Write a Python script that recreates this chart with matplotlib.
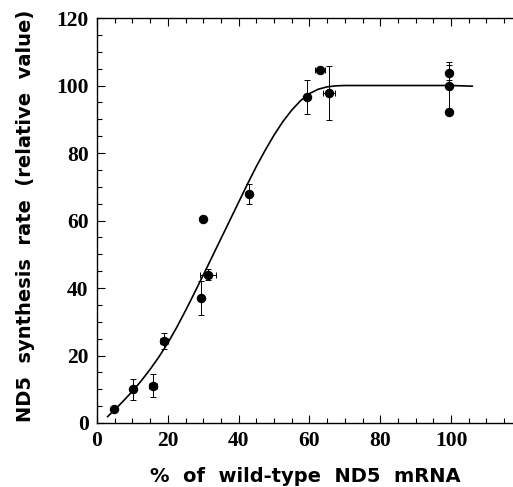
import numpy as np
import matplotlib
matplotlib.use('Agg')
import matplotlib.pyplot as plt
from matplotlib.ticker import MultipleLocator

# measured points (% wild-type ND5 mRNA vs synthesis rate)
x_pts = [4.8, 10.1, 15.9, 19.0, 29.4, 30.0, 31.4, 43.0, 59.2, 63.1, 65.6, 99.4, 99.4, 99.4]
y_pts = [4.2, 10.0, 11.1, 24.3, 37.1, 60.4, 44.0, 67.9, 96.7, 104.6, 97.7, 103.8, 99.9, 92.1]
yerr = [0, 3.1, 3.5, 2.4, 5.0, 0.8, 1.5, 3.0, 5.0, 1.0, 8.0, 2.2, 7.0, 0]
xerr = [0, 0, 1.1, 1.1, 0, 0, 2.3, 0, 0, 1.4, 1.7, 0, 0, 0]

# fitted curve
curve_x = [3, 5, 7.5, 10, 12.5, 15, 17.5, 20, 22.5, 25, 27.5, 30, 32.5, 35, 37.5, 40, 42.5, 45,
           47.5, 50, 52.5, 55, 57.5, 60, 62.5, 65, 67.5, 70, 80, 90, 100, 106]
curve_y = [1.9, 3.9, 6.6, 9.4, 12.5, 15.9, 19.6, 23.7, 28.3, 33.3, 38.5, 43.8, 49.2, 54.6, 60.0, 65.4, 70.8, 76.0,
           80.8, 85.3, 89.3, 92.7, 95.5, 97.6, 98.9, 99.6, 99.9, 100, 100, 100, 100, 99.8]

xticks = [0, 20, 40, 60, 80, 100]
yticks = [0, 20, 40, 60, 80, 100, 120]

fig = plt.figure(figsize=(5.13, 4.87), dpi=100)
ax = fig.add_axes([97/513, 1 - 423/487, 416/513, 405/487])

ax.plot(curve_x, curve_y, 'k-', lw=1.2)
ax.errorbar(x_pts, y_pts, yerr=yerr, xerr=xerr, fmt='o', color='black',
            ms=5.8, elinewidth=0.7, capsize=2.2, capthick=0.7)

ax.set_xlim(0, 117.5)
ax.set_ylim(0, 120)
ax.set_xticks(xticks)
ax.set_yticks(yticks)
ax.xaxis.set_minor_locator(MultipleLocator(5))
ax.yaxis.set_minor_locator(MultipleLocator(5))
ax.spines['right'].set_visible(False)
for s in ['left', 'bottom', 'top']:
    ax.spines[s].set_linewidth(1.0)
ax.tick_params(which='both', direction='in', top=True, right=False, width=0.8)
ax.tick_params(which='major', length=6, pad=6)
ax.tick_params(which='minor', length=3.5)

for lab in ax.get_xticklabels() + ax.get_yticklabels():
    lab.set_fontfamily('Liberation Serif')
    lab.set_fontweight('bold')
    lab.set_fontsize(15.5)

ax.set_xlabel('%  of  wild-type  ND5  mRNA', family='DejaVu Sans',
              fontweight='bold', fontsize=14, va='center')
ax.xaxis.set_label_coords(0.5, -0.131)
ax.set_ylabel('ND5  synthesis  rate  (relative  value)', family='DejaVu Sans',
              fontweight='bold', fontsize=14, va='center')
ax.yaxis.set_label_coords(-0.173, 0.511)

fig.savefig('out.png', dpi=100)
